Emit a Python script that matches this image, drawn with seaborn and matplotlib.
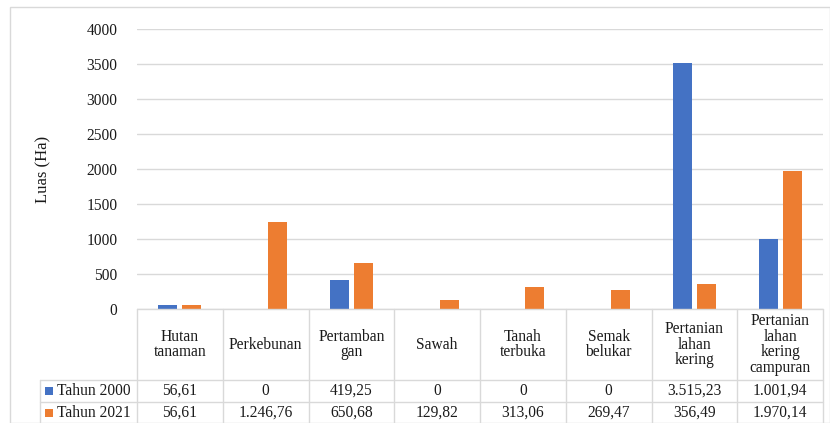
import matplotlib
matplotlib.use("Agg")
import matplotlib.pyplot as plt
import seaborn as sns
import pandas as pd
from matplotlib.patches import Rectangle
from matplotlib.lines import Line2D

# Land-cover classes (table header labels, wrapped as shown in each cell)
categories = [
    "Hutan\ntanaman",
    "Perkebunan",
    "Pertamban\ngan",
    "Sawah",
    "Tanah\nterbuka",
    "Semak\nbelukar",
    "Pertanian\nlahan\nkering",
    "Pertanian\nlahan\nkering\ncampuran",
]
series_names = ["Tahun 2000", "Tahun 2021"]
values_2000 = [56.61, 0, 419.25, 0, 0, 0, 3515.23, 1001.94]
values_2021 = [56.61, 1246.76, 650.68, 129.82, 313.06, 269.47, 356.49, 1970.14]
y_ticks = [0, 500, 1000, 1500, 2000, 2500, 3000, 3500, 4000]

colors = ["#4472C4", "#ED7D31"]
line_col = "#D9D9D9"
text_col = "#1a1a1a"

W, H = 830, 423
sns.set_theme(style="white")
plt.rcParams["font.family"] = ["Liberation Serif", "DejaVu Serif"]
FS = 11.2


def fx(x):
    return x / W


def fy(y):
    return 1 - y / H


def id_fmt(v):
    if v == 0:
        return "0"
    s = f"{v:,.2f}"
    return s.replace(",", "X").replace(".", ",").replace("X", ".")


df = pd.DataFrame({
    "cat": list(range(len(categories))) * 2,
    "val": values_2000 + values_2021,
    "series": [series_names[0]] * len(categories) + [series_names[1]] * len(categories),
})

fig = plt.figure(figsize=(W / 100, H / 100), dpi=100)

# chart border
fig.patches.append(Rectangle((fx(10), fy(423)), fx(830 - 10), fy(11) - fy(423) + 0.01,
                             transform=fig.transFigure, fill=False,
                             edgecolor=line_col, linewidth=1.0))

left, right, top, bottom = 137, 823, 29, 309
ax = fig.add_axes([fx(left), fy(bottom), fx(right - left), fy(top) - fy(bottom)])

sns.barplot(data=df, x="cat", y="val", hue="series", palette=colors,
            width=0.56, gap=0.2, order=list(range(len(categories))),
            hue_order=series_names, ax=ax, legend=False,
            saturation=1, edgecolor="none")

ax.set_xlim(-0.5, len(categories) - 0.5)
ax.set_ylim(0, 4000)
ax.set_yticks(y_ticks)
ax.set_yticklabels([str(t) for t in y_ticks], fontsize=FS, color=text_col)
ax.set_xticks([])
ax.set_xlabel("")
ax.set_ylabel("")
ax.tick_params(axis="y", length=0, pad=14)
ax.yaxis.grid(True, color=line_col, linewidth=1.0)
ax.set_axisbelow(True)
for s in ax.spines.values():
    s.set_visible(False)
ax.patch.set_alpha(0)

fig.text(fx(43), fy(169), "Luas (Ha)", rotation=90, ha="center", va="center",
         fontsize=12, color=text_col)

# data table below the bars
col_edges = [left + i * (right - left) / len(categories) for i in range(len(categories) + 1)]
row_header = (309, 380)
row_lines = [380, 402, 424]
leg_left = 40


def hline(x0, x1, y):
    fig.add_artist(Line2D([fx(x0), fx(x1)], [fy(y), fy(y)], transform=fig.transFigure,
                          color=line_col, linewidth=1.0))


def vline(x, y0, y1):
    fig.add_artist(Line2D([fx(x), fx(x)], [fy(y0), fy(y1)], transform=fig.transFigure,
                          color=line_col, linewidth=1.0))


hline(left, right, 309)
for y in row_lines:
    hline(leg_left, right, y)
for x in col_edges:
    vline(x, 309, 424)
vline(leg_left, 380, 424)

for i, cat in enumerate(categories):
    cx = (col_edges[i] + col_edges[i + 1]) / 2
    fig.text(fx(cx), fy(sum(row_header) / 2), cat, ha="center", va="center",
             multialignment="center", fontsize=FS, color=text_col, linespacing=0.98)

for r, (name, vals) in enumerate(zip(series_names, [values_2000, values_2021])):
    cy = (row_lines[r] + row_lines[r + 1]) / 2
    fig.patches.append(Rectangle((fx(45), fy(cy + 4)), fx(8), fy(cy - 4) - fy(cy + 4),
                                 transform=fig.transFigure, facecolor=colors[r],
                                 edgecolor="none"))
    fig.text(fx(57), fy(cy), name, ha="left", va="center", fontsize=FS, color=text_col)
    for i, v in enumerate(vals):
        cx = (col_edges[i] + col_edges[i + 1]) / 2
        fig.text(fx(cx), fy(cy), id_fmt(v), ha="center", va="center",
                 fontsize=FS, color=text_col)

fig.savefig("out.png", dpi=100)
